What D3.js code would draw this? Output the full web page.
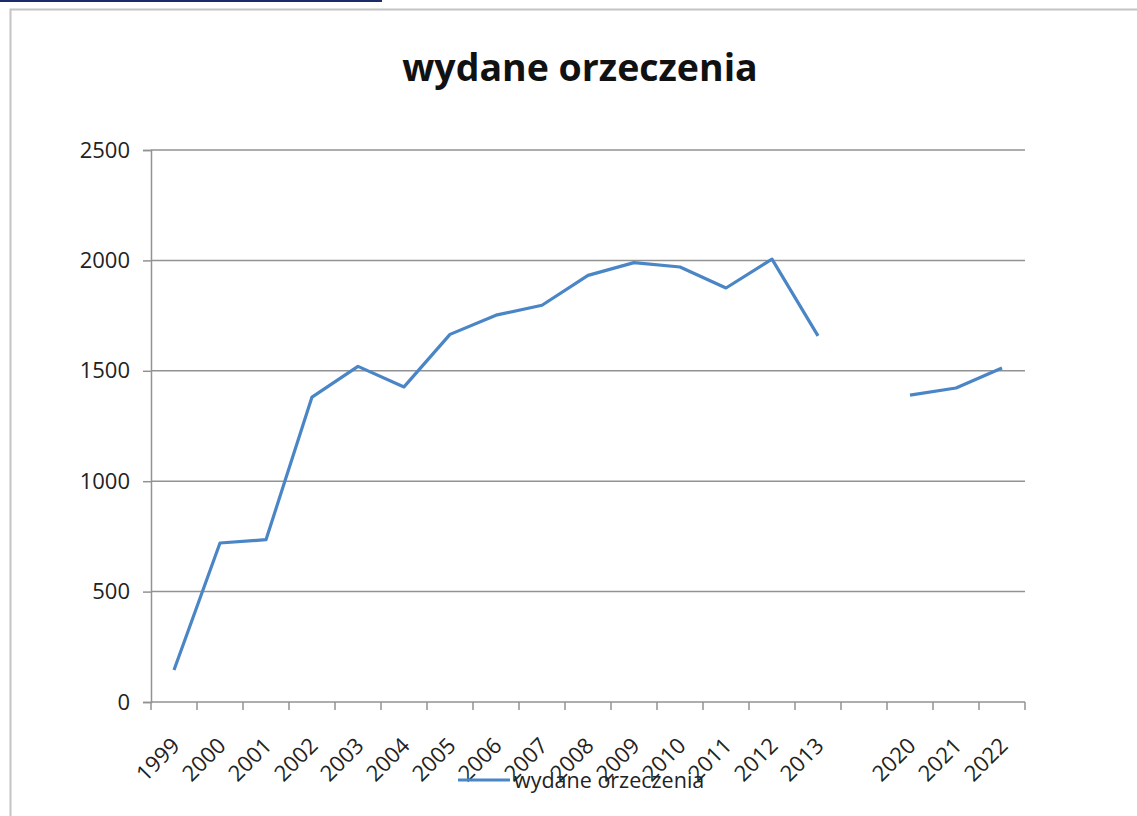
<!DOCTYPE html>
<html>
<head>
<meta charset="utf-8">
<script src="https://cdn.jsdelivr.net/npm/d3@7"></script>
<style>
  body { margin: 0; background: #fff; }
  svg { display: block; font-family: "Open Sans", sans-serif; }
</style>
</head>
<body>
<svg id="chart" width="1137" height="816"></svg>
<script>
// years on the axis; the empty one is the gap between 2013 and 2020
const years = ["1999", "2000", "2001", "2002", "2003", "2004", "2005", "2006",
  "2007", "2008", "2009", "2010", "2011", "2012", "2013", "", "2020", "2021", "2022"];
const values = [145, 720, 735, 1381, 1520, 1427, 1665, 1752, 1797, 1932,
  1990, 1970, 1875, 2006, 1658, null, 1390, 1422, 1513];
const yTicks = [0, 500, 1000, 1500, 2000, 2500];
const title = "wydane orzeczenia";
const seriesName = "wydane orzeczenia";

const svg = d3.select("#chart");
const plotLeft = 151, plotRight = 1025, plotTop = 150, plotBottom = 702;
const blue = "#4a85c6";

// page bits round the picture
svg.append("rect")
  .attr("x", 0).attr("y", 0)
  .attr("width", 382).attr("height", 2)
  .attr("fill", "#1c2b6a");

svg.append("rect")
  .attr("x", 10.5).attr("y", 9.5)
  .attr("width", 1140).attr("height", 820)
  .attr("fill", "#fff")
  .attr("stroke", "#c4c4c4")
  .attr("stroke-width", 2);

const x = d3.scaleBand()
  .domain(d3.range(years.length))
  .range([plotLeft, plotRight])
  .padding(0);

const y = d3.scaleLinear()
  .domain([0, 2500])
  .range([plotBottom, plotTop]);

const cx = i => x(i) + x.bandwidth() / 2;

// gridlines
svg.append("g")
  .selectAll("line")
  .data(yTicks.filter(d => d > 0))
  .enter()
  .append("line")
  .attr("x1", plotLeft).attr("x2", plotRight)
  .attr("y1", d => y(d)).attr("y2", d => y(d))
  .attr("stroke", "#929292")
  .attr("stroke-width", 1.5);

// y axis
const yAxis = svg.append("g")
  .attr("transform", `translate(${plotLeft},0)`)
  .call(d3.axisLeft(y).tickValues(yTicks).tickFormat(d3.format("d"))
    .tickSize(8).tickPadding(13));

yAxis.select(".domain").attr("stroke", "#929292").attr("stroke-width", 1.5);
yAxis.selectAll(".tick line").attr("stroke", "#929292").attr("stroke-width", 1.5);
yAxis.selectAll(".tick text")
  .attr("font-family", "Open Sans")
  .attr("font-size", 22)
  .attr("fill", "#222");

// x axis line and ticks at the band edges
svg.append("line")
  .attr("x1", plotLeft).attr("x2", plotRight)
  .attr("y1", plotBottom).attr("y2", plotBottom)
  .attr("stroke", "#929292")
  .attr("stroke-width", 1.5);

svg.append("g")
  .selectAll("line")
  .data(d3.range(years.length + 1))
  .enter()
  .append("line")
  .attr("x1", i => i < years.length ? x(i) : plotRight)
  .attr("x2", i => i < years.length ? x(i) : plotRight)
  .attr("y1", plotBottom).attr("y2", plotBottom + 8)
  .attr("stroke", "#929292")
  .attr("stroke-width", 1.5);

svg.append("g")
  .selectAll("text")
  .data(years.map((d, i) => ({ d, i })).filter(o => o.d !== ""))
  .enter()
  .append("text")
  .attr("transform", o => `translate(${cx(o.i) - 4},${plotBottom + 34}) rotate(-45)`)
  .attr("text-anchor", "end")
  .attr("dy", "0.71em")
  .attr("font-size", 22)
  .attr("fill", "#222")
  .text(o => o.d);

// series
const line = d3.line()
  .defined(d => d != null)
  .x((d, i) => cx(i))
  .y(d => y(d));

svg.append("path")
  .datum(values)
  .attr("fill", "none")
  .attr("stroke", blue)
  .attr("stroke-width", 3.2)
  .attr("stroke-linejoin", "round")
  .attr("d", line);

// title
svg.append("text")
  .attr("x", 580).attr("y", 81)
  .attr("text-anchor", "middle")
  .attr("font-size", 37.5)
  .attr("font-weight", "bold")
  .attr("fill", "#111")
  .text(title);

// legend
svg.append("line")
  .attr("x1", 458).attr("x2", 510)
  .attr("y1", 780).attr("y2", 780)
  .attr("stroke", blue)
  .attr("stroke-width", 3);

svg.append("text")
  .attr("x", 514).attr("y", 788)
  .attr("font-size", 21.5)
  .attr("fill", "#222")
  .text(seriesName);
</script>
</body>
</html>
